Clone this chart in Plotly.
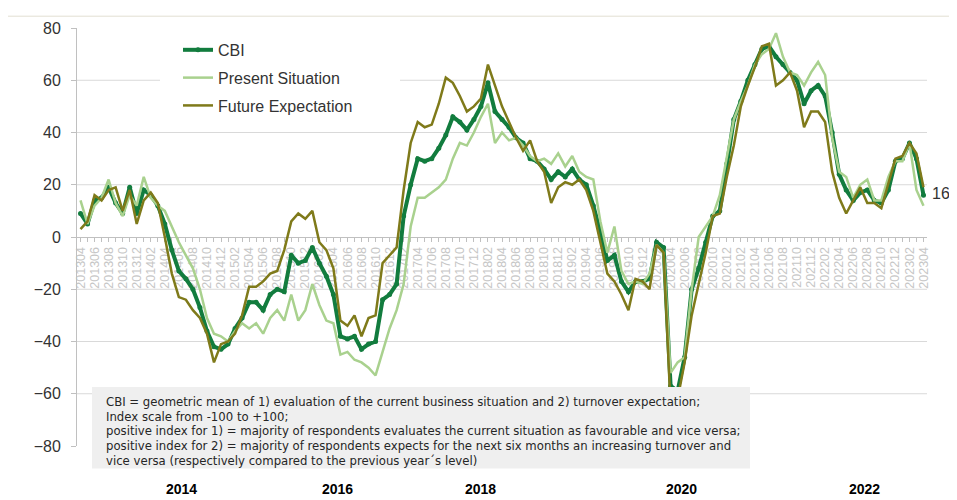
import plotly.graph_objects as go

# ---------------- data ----------------
all_months = [f"{y}{m:02d}" for y in range(2013, 2024) for m in range(1, 13)]
months = all_months[3:3 + 121]          # 201304 .. 202304
tick_labels = [lab if i % 2 == 0 else "" for i, lab in enumerate(months)]

cbi = [9, 5, 14, 15, 19, 13, 9, 19, 9, 18, 16, 12,
       5, -5, -13, -16, -20, -27, -36, -42, -43, -41, -35, -31,
       -25, -25, -28, -22, -20, -21, -7, -10, -9, -4, -10, -15,
       -22, -38, -39, -38, -43, -41, -40, -24, -22, -18, 8, 20,
       30, 29, 30, 34, 39, 46, 44, 41, 45, 50, 59, 48,
       45, 42, 38, 36, 30, 29, 26, 22, 25, 23, 26, 22,
       20, 12, 2, -9, -7, -17, -21, -17, -17, -16, -2, -4,
       -57, -59, -46, -20, -12, -2, 8, 10, 28, 45, 52, 60,
       66, 72, 73, 69, 66, 63, 60, 51, 56, 58, 54, 40,
       24, 18, 14, 17, 18, 14, 13, 18, 29, 30, 36, 30,
       16]

present = [14, 5, 12, 15, 22, 13, 8, 16, 12, 23, 15, 12,
           10, 4, -2, -7, -12, -20, -31, -37, -38, -40, -36, -33,
           -35, -33, -37, -31, -28, -32, -22, -32, -28, -18, -26, -32,
           -33, -45, -44, -47, -48, -50, -53, -44, -35, -28, -18, 4,
           15, 15, 17, 19, 22, 30, 36, 35, 40, 46, 51, 36,
           40, 37, 38, 35, 31, 29, 30, 28, 32, 27, 31, 25,
           23, 22, 6, -6, 4, -13, -18, -17, -18, -14, -3, -6,
           -52, -48, -46, -20, 0, 4, 8, 16, 30, 45, 52, 58,
           66, 70, 72, 78, 69, 63, 62, 58, 63, 67, 62, 38,
           25, 23, 15, 20, 22, 14, 14, 23, 29, 29, 36, 18,
           12]

future = [3, 6, 16, 14, 18, 19, 10, 18, 5, 14, 17, 13,
          0, -14, -23, -24, -28, -31, -37, -48, -41, -40, -37, -30,
          -19, -19, -17, -14, -13, -5, 6, 9, 7, 10, -2, -5,
          -12, -32, -34, -30, -38, -31, -30, -10, -7, -4, 18, 36,
          44, 42, 43, 51, 61, 59, 54, 48, 50, 53, 66, 58,
          50, 44, 38, 33, 37, 29, 25, 13, 19, 21, 20, 22,
          18, 10, -2, -14, -17, -22, -28, -16, -17, -20, -3, -6,
          -65, -62, -48, -30, -18, -6, 8, 9, 23, 35, 50, 58,
          65, 73, 74, 58, 60, 63, 56, 42, 48, 48, 44, 25,
          15, 9, 14, 19, 13, 13, 11, 20, 30, 31, 36, 32,
          19]

y_ticks = [-80, -60, -40, -20, 0, 20, 40, 60, 80]
grid_values = [-60, -40, -20, 20, 40, 60]
year_labels = ["2014", "2016", "2018", "2020", "2022"]
year_px = [181, 337, 480, 681, 864]

note_lines = [
    "CBI = geometric mean of 1) evaluation of the current business situation and 2) turnover expectation;",
    "Index scale from -100 to +100;",
    "positive index for 1) = majority of respondents evaluates the current situation as favourable and vice versa;",
    "positive index for 2) = majority of respondents expects for the next six months an increasing turnover and",
    "vice versa (respectively compared to the previous year\u00b4s level)",
]

# ---------------- layout constants ----------------
OFF = 8                      # page body margin of the html page
W, H = 957 - OFF, 500 - OFF
PLOT_L, PLOT_R, PLOT_T, PLOT_B = 77, 927, 21, 446   # page pixels
L, T = PLOT_L - OFF, PLOT_T - OFF
R, B = W - (PLOT_R - OFF), H - (PLOT_B - OFF)
PW, PH = PLOT_R - PLOT_L, PLOT_B - PLOT_T

def px_x(px):
    return (px - PLOT_L) / PW

def px_y(py):
    return 1 - (py - PLOT_T) / PH

C_CBI = "#127c3e"
C_PRES = "#a9d18e"
C_FUT = "#7f7a1a"
TXT = "#333333"
FONT = "Liberation Sans, Arial, sans-serif"
NARROW = "Liberation Sans Narrow, DejaVu Sans Condensed, Arial Narrow, Liberation Sans, sans-serif"

x = list(range(len(months)))

fig = go.Figure()
fig.add_trace(go.Scatter(x=x, y=cbi, name="CBI", mode="lines+markers",
                         line=dict(color=C_CBI, width=4),
                         marker=dict(color=C_CBI, size=5),
                         legendgroup="a"))
fig.add_trace(go.Scatter(x=x, y=present, name="Present Situation", mode="lines",
                         line=dict(color=C_PRES, width=2.5), legendgroup="b"))
fig.add_trace(go.Scatter(x=x, y=future, name="Future Expectation", mode="lines",
                         line=dict(color=C_FUT, width=2.5), legendgroup="c"))

for v in grid_values:
    fig.add_hline(y=v, line=dict(color="#d9d9d9", width=1), layer="below")

# white area behind the legend (gap in gridlines)
fig.add_shape(type="rect", xref="paper", yref="paper",
              x0=px_x(160), x1=px_x(400), y0=px_y(118), y1=px_y(30),
              fillcolor="white", line=dict(width=0), layer="below")
# top frame line
fig.add_shape(type="line", xref="paper", yref="paper",
              x0=px_x(OFF), x1=px_x(957), y0=px_y(9), y1=px_y(9),
              line=dict(color="#e2dfd2", width=1))
# note box
fig.add_shape(type="rect", xref="paper", yref="paper",
              x0=px_x(92), x1=px_x(750), y0=px_y(386), y1=px_y(469),
              fillcolor="#efefef", line=dict(width=0), layer="above")

note_y = [400.5, 415.5, 430.5, 445.5, 460.5]
for line_text, py in zip(note_lines, note_y):
    fig.add_annotation(xref="paper", yref="paper", x=px_x(104), y=px_y(py),
                       xanchor="left", yanchor="middle", align="left",
                       showarrow=False, text=line_text,
                       font=dict(family=NARROW, size=13, color="#262626"))

for lab, px in zip(year_labels, year_px):
    fig.add_annotation(xref="paper", yref="paper", x=px_x(px), y=px_y(490),
                       xanchor="center", yanchor="middle", showarrow=False,
                       text=f"<b>{lab}</b>",
                       font=dict(family=FONT, size=14, color="#000000"))

fig.add_annotation(xref="x", yref="y", x=x[-1], y=cbi[-1], xanchor="left",
                   xshift=8, yshift=2, showarrow=False, text=str(cbi[-1]),
                   borderpad=0,
                   font=dict(family=FONT, size=16, color=TXT))

fig.update_layout(
    width=W, height=H,
    margin=dict(l=L, r=R, t=T, b=B),
    paper_bgcolor="white", plot_bgcolor="white",
    font=dict(family=FONT, color=TXT),
    showlegend=True,
    legend=dict(x=px_x(178), y=px_y(26), xanchor="left", yanchor="top",
                bgcolor="rgba(255,255,255,0)", font=dict(size=16, color=TXT),
                tracegroupgap=4, itemwidth=30),
    xaxis=dict(range=[-0.5, len(months) - 0.5], anchor="free", position=0.5,
               tickmode="array", tickvals=x, ticktext=tick_labels,
               tickangle=-90, tickfont=dict(size=12.5, color="#c6c6c6"),
               ticks="outside", ticklen=4, tickcolor="#c0c0c0",
               showline=True, linecolor="#c0c0c0", linewidth=1,
               showgrid=False, zeroline=False, layer="below traces"),
    yaxis=dict(range=[-80, 80], tickmode="array", tickvals=y_ticks,
               ticks="outside", ticklen=5, tickcolor="#c0c0c0",
               showline=True, linecolor="#c0c0c0", linewidth=1,
               showgrid=False, zeroline=False, ticklabelstandoff=7,
               tickfont=dict(size=16, color=TXT)),
)

fig.write_html("out.html")
